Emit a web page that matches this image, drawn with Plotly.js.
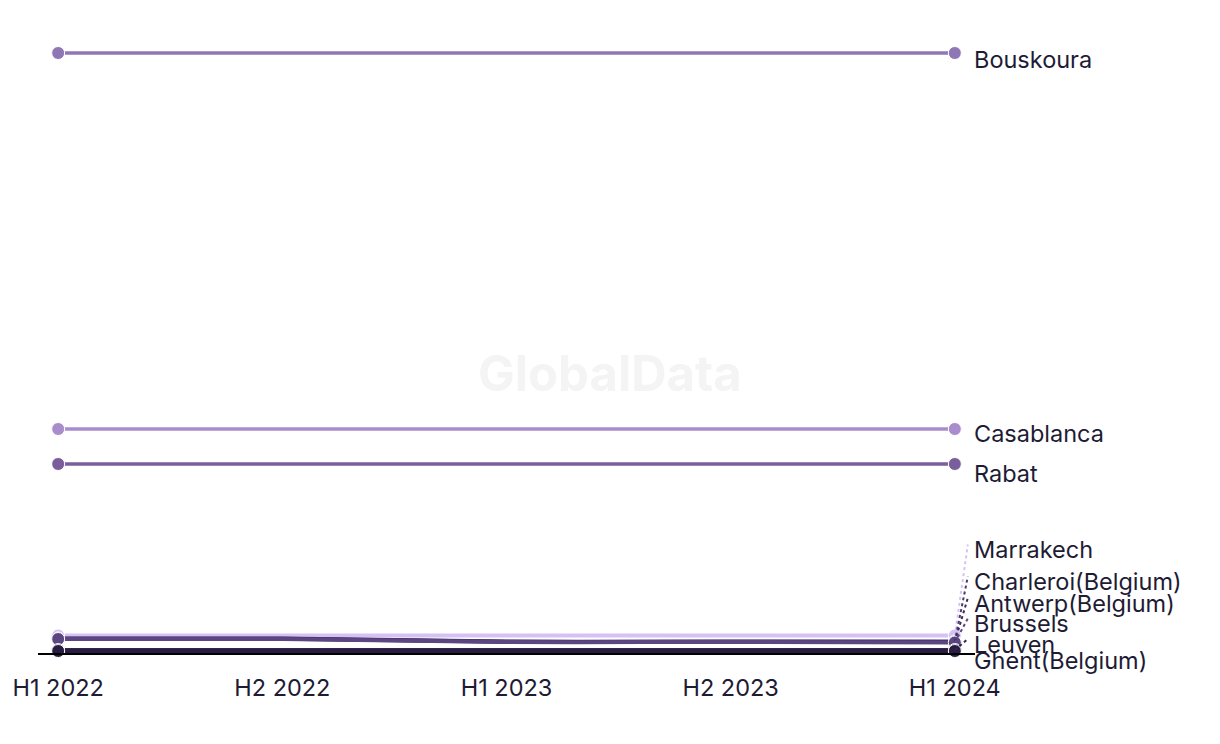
<!DOCTYPE html>
<html>
<head>
<meta charset="utf-8">
<script src="https://cdn.plot.ly/plotly-3.0.1.min.js"></script>
<style>html,body{margin:0;padding:0;background:#fff;}#chart{width:1220px;height:744px;}</style>
</head>
<body>
<div id="chart"></div>
<script>
// ---- data ----
const periods = ["H1 2022", "H2 2022", "H1 2023", "H2 2023", "H1 2024"];
const bouskoura  = [600, 600, 600, 600, 600];
const casablanca = [224, 224, 224, 224, 224];
const rabat      = [189, 189, 189, 189, 189];
const marrakech  = [17.5, 17.5, 17.5, 17.5, 17.5];
const charleroi  = [14.5, 14.5, 11.5, 11.5, 11.5];
const antwerp    = [14.2, 14.2, 11.2, 11.2, 11];
const brussels   = [14, 14, 11, 11, 10.5];
const leuven     = [3, 3, 3, 3, 3];
const ghent      = [2, 2, 2, 2, 2];

const seriesNames = ["Marrakech", "Charleroi(Belgium)", "Antwerp(Belgium)", "Brussels", "Leuven", "Ghent(Belgium)", "Rabat", "Casablanca", "Bouskoura"];
const seriesValues = [marrakech, charleroi, antwerp, brussels, leuven, ghent, rabat, casablanca, bouskoura];

// ---- styling (layout only) ----
const colors = ["#d6c1f5", "#4d3b6e", "#3d2c5b", "#5b4682", "#33244f", "#281c40", "#7a5e9b", "#a88ccb", "#8f77b5"];
const widths = [4, 4, 4, 4, 4, 4, 3.5, 3.5, 3.5];
// label vertical offsets in pixels (positive = up) relative to the last point
const labelShift = [86, 60, 39, 19, 6, -9, -9, -4, -6];
const connector = [true, true, true, true, true, false, false, false, false];

const textColor = "#1e1b35";
const font = "Inter, 'Noto Sans', sans-serif";

const traces = seriesNames.map((name, i) => ({
  type: "scatter",
  mode: "lines+markers",
  name: name,
  x: periods,
  y: seriesValues[i],
  line: {color: colors[i], width: widths[i], shape: "spline", smoothing: 1},
  marker: {color: colors[i], size: seriesValues[i].map((v, j) => (j === 0 || j === periods.length - 1) ? 13 : 0), opacity: 1},
  hoverinfo: "x+y+name",
  cliponaxis: false
}));

const last = periods.length - 1;
const annotations = seriesNames.map((name, i) => ({
  x: last, xref: "x",
  y: seriesValues[i][last], yref: "y",
  text: name,
  showarrow: false,
  xanchor: "left", yanchor: "middle",
  xshift: 17, yshift: labelShift[i],
  font: {family: font, size: 23.5, color: textColor}
}));
annotations.push({
  x: 0.61, y: 0.442, xref: "paper", yref: "paper",
  text: "<b>GlobalData</b>", showarrow: false,
  xanchor: "center", yanchor: "middle",
  font: {family: font, size: 49, color: "#f4f4f4"}
});

const shapes = [];
seriesNames.forEach((name, i) => {
  if (!connector[i]) return;
  shapes.push({
    type: "line", layer: "above",
    xref: "x", yref: "y",
    xsizemode: "pixel", ysizemode: "pixel",
    xanchor: last, yanchor: seriesValues[i][last],
    x0: 0, x1: 13, y0: 0, y1: labelShift[i] + 5,
    line: {color: colors[i], width: 2, dash: "dot"}
  });
});

const layout = {
  width: 1220, height: 744,
  margin: {l: 38, r: 245, t: 20, b: 91},
  paper_bgcolor: "#ffffff", plot_bgcolor: "#ffffff",
  showlegend: false,
  font: {family: font, color: textColor},
  xaxis: {
    type: "category",
    range: [-0.09, 4.09],
    showline: true, linecolor: "#000000", linewidth: 2,
    showgrid: false, zeroline: false, ticks: "",
    ticklabelstandoff: 13,
    tickfont: {family: font, size: 23.5, color: textColor},
    fixedrange: true
  },
  yaxis: {
    range: [0, 633],
    visible: false, showgrid: false, zeroline: false,
    fixedrange: true
  },
  annotations: annotations,
  shapes: shapes
};

Plotly.newPlot("chart", traces, layout, {displayModeBar: false, responsive: false});
</script>
</body>
</html>
